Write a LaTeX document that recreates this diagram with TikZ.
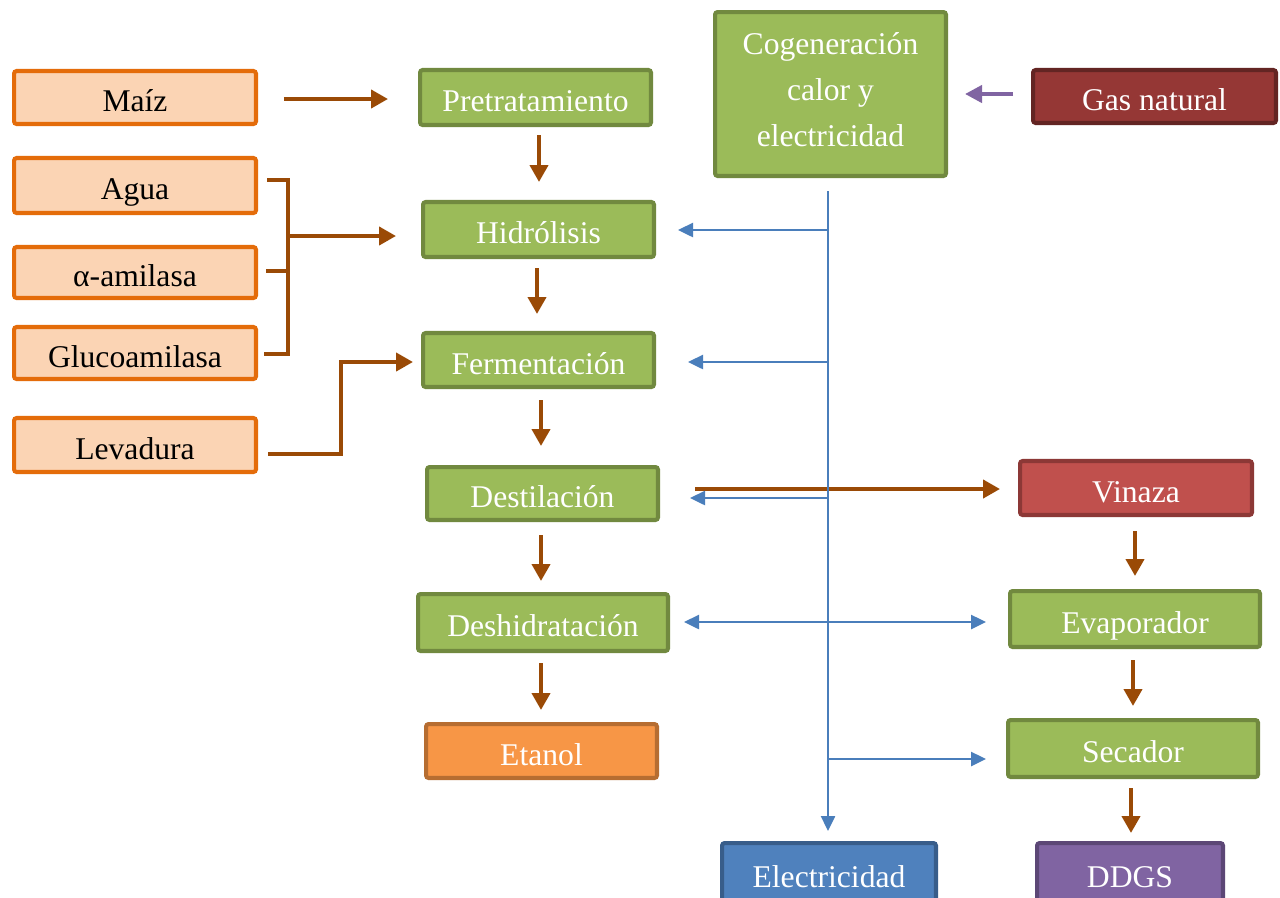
\documentclass[tikz,border=0pt]{standalone}
\usepackage{fontspec}
\setmainfont{Liberation Serif}
\usetikzlibrary{arrows.meta,calc}
\definecolor{orB}{HTML}{E46C0A}
\definecolor{orF}{HTML}{FBD4B4}
\definecolor{grB}{HTML}{71893F}
\definecolor{grF}{HTML}{9BBB59}
\definecolor{etF}{HTML}{F79646}
\definecolor{etB}{HTML}{B66D31}
\definecolor{gaF}{HTML}{953735}
\definecolor{gaB}{HTML}{632523}
\definecolor{viF}{HTML}{C0504D}
\definecolor{viB}{HTML}{8C3836}
\definecolor{elF}{HTML}{4F81BD}
\definecolor{elB}{HTML}{385D8A}
\definecolor{ddF}{HTML}{8064A2}
\definecolor{ddB}{HTML}{5C4776}
\definecolor{brw}{HTML}{9A4A06}
\definecolor{blu}{HTML}{4A7EBB}
\definecolor{pur}{HTML}{8064A2}
\tikzset{
  box/.style={line width=2.3pt, rounded corners=1.5pt, align=center, inner sep=0pt,
    font=\fontsize{18}{26}\selectfont},
  one/.style={text height=0.56cm, text depth=0cm},
  inbox/.style={box, one, draw=orB, fill=orF, text=black},
  proc/.style={box, draw=grB, fill=grF, text=white},
  brline/.style={draw=brw, line width=2.3pt, line join=miter},
  brarrow/.style={brline, -{Triangle[length=0.34cm,width=0.36cm]}},
  bluarrow/.style={draw=blu, line width=1.4pt, -{Triangle[length=0.3cm,width=0.28cm]}},
  blubi/.style={draw=blu, line width=1.4pt, {Triangle[length=0.3cm,width=0.28cm]}-{Triangle[length=0.3cm,width=0.28cm]}},
  purarrow/.style={draw=pur, line width=2.3pt, -{Triangle[length=0.34cm,width=0.34cm]}}
}
\begin{document}
\begin{tikzpicture}[x=0.02cm,y=-0.02cm]
\clip (0,0) rectangle (1280,897);
\fill[white] (0,0) rectangle (1280,897);
% input boxes
\node[inbox, minimum width=4.84cm, minimum height=1.06cm] (maiz) at (135,97.5) {Maíz};
\node[inbox, minimum width=4.84cm, minimum height=1.10cm] (agua) at (135,185.5) {Agua};
\node[inbox, minimum width=4.84cm, minimum height=1.02cm] (amil) at (135,272.5) {α-amilasa};
\node[inbox, minimum width=4.84cm, minimum height=1.04cm] (gluco) at (135,353) {Glucoamilasa};
\node[inbox, minimum width=4.84cm, minimum height=1.08cm] (lev) at (135,445) {Levadura};
% process column
\node[proc, one, minimum width=4.62cm, minimum height=1.10cm] (pre) at (535.5,97.5) {Pretratamiento};
\node[proc, one, minimum width=4.62cm, minimum height=1.10cm] (hid) at (538.5,229.5) {Hidrólisis};
\node[proc, one, minimum width=4.62cm, minimum height=1.08cm] (fer) at (538.5,360) {Fermentación};
\node[proc, one, minimum width=4.62cm, minimum height=1.06cm] (dest) at (542.5,493.5) {Destilación};
\node[proc, one, minimum width=5.00cm, minimum height=1.14cm] (desh) at (543,622.5) {Deshidratación};
\node[box, one, draw=etB, fill=etF, text=white, minimum width=4.62cm, minimum height=1.08cm] (etanol) at (541.5,751) {Etanol};
% cogeneration
\node[proc, text depth=0.18cm, minimum width=4.62cm, minimum height=3.28cm] (cog) at (830.5,94) {Cogeneración\\calor y\\electricidad};
\node[box, one, draw=gaB, fill=gaF, text=white, minimum width=4.86cm, minimum height=1.06cm] (gas) at (1154.5,96.5) {Gas natural};
% right column
\node[box, one, draw=viB, fill=viF, text=white, minimum width=4.64cm, minimum height=1.08cm] (vin) at (1136,488) {Vinaza};
\node[proc, one, minimum width=5.00cm, minimum height=1.12cm] (evap) at (1135,619) {Evaporador};
\node[proc, one, minimum width=5.00cm, minimum height=1.14cm] (sec) at (1133,748.5) {Secador};
% outputs
\node[box, one, draw=elB, fill=elF, text=white, minimum width=4.28cm, minimum height=1.2cm] (elec) at (829,873) {Electricidad};
\node[box, one, draw=ddB, fill=ddF, text=white, minimum width=3.72cm, minimum height=1.2cm] (ddgs) at (1130,873) {DDGS};
% brown arrows
\draw[brarrow, shorten <=0.52cm, shorten >=0.6cm] ([yshift=-0.03cm]maiz.east) -- ([yshift=-0.03cm]pre.west);
\draw[brarrow, shorten <=0.16cm, shorten >=0.36cm] ([xshift=0.07cm]pre.south) -- ([xshift=0.07cm]pre.south |- hid.north);
\draw[brarrow, shorten <=0.18cm, shorten >=0.34cm] ([xshift=-0.03cm]hid.south) -- ([xshift=-0.03cm]hid.south |- fer.north);
\draw[brarrow, shorten <=0.22cm, shorten >=0.38cm] ([xshift=0.05cm]fer.south) -- ([xshift=0.05cm]fer.south |- dest.north);
\draw[brarrow, shorten <=0.26cm, shorten >=0.22cm] ([xshift=-0.03cm]dest.south) -- ([xshift=-0.03cm]dest.south |- desh.north);
\draw[brarrow, shorten <=0.20cm, shorten >=0.24cm] ([xshift=-0.04cm]desh.south) -- ([xshift=-0.04cm]desh.south |- etanol.north);
\draw[brarrow, shorten <=0.28cm, shorten >=0.26cm] ([xshift=-0.02cm]vin.south) -- ([xshift=-0.02cm]vin.south |- evap.north);
\draw[brarrow, shorten <=0.22cm, shorten >=0.24cm] ([xshift=-0.04cm]evap.south) -- ([xshift=-0.04cm]evap.south |- sec.north);
\draw[brarrow, shorten <=0.18cm, shorten >=0.16cm] ([xshift=-0.04cm]sec.south) -- ([xshift=-0.04cm]sec.south |- ddgs.north);
\draw[brarrow, shorten <=0.7cm, shorten >=0.36cm] ([shift={(0,-4.5)}]dest.east) -- ([shift={(0,1)}]vin.west);
% bracket
\draw[brline] ([shift={(9,-5.5)}]agua.east) -- ++(21,0) |- ([shift={(6,1)}]gluco.east);
\draw[brline] ([shift={(8,-1.5)}]amil.east) -- ++(22,0);
\coordinate (brk) at (288,236);
\draw[brarrow, shorten >=0.5cm] (brk) -- (brk -| hid.west);
\coordinate (levk) at (341,362);
\draw[brarrow, shorten >=0.16cm] ([shift={(10,9)}]lev.east) -| (levk) -- (levk -| fer.west);
% purple
\draw[purarrow, shorten <=0.36cm, shorten >=0.34cm] ([yshift=0.05cm]gas.west) -- ([yshift=0.05cm]gas.west -| cog.east);
% blue
\draw[bluarrow] ([shift={(-2.5,13)}]cog.south) -- ([shift={(-1,-10)}]elec.north);
\coordinate (bh) at (828,230);
\coordinate (bf) at (828,362);
\coordinate (bd) at (828,498);
\coordinate (bdh) at (828,622);
\coordinate (bs) at (828,759);
\draw[bluarrow, shorten >=0.44cm] (bh) -- (bh -| hid.east);
\draw[bluarrow, shorten >=0.64cm] (bf) -- (bf -| fer.east);
\draw[bluarrow, shorten >=0.6cm] (bd) -- (bd -| dest.east);
\draw[blubi, shorten <=0.28cm, shorten >=0.44cm] (bdh -| desh.east) -- (bdh -| evap.west);
\draw[bluarrow, shorten >=0.4cm] (bs) -- (bs -| sec.west);
\end{tikzpicture}
\end{document}
